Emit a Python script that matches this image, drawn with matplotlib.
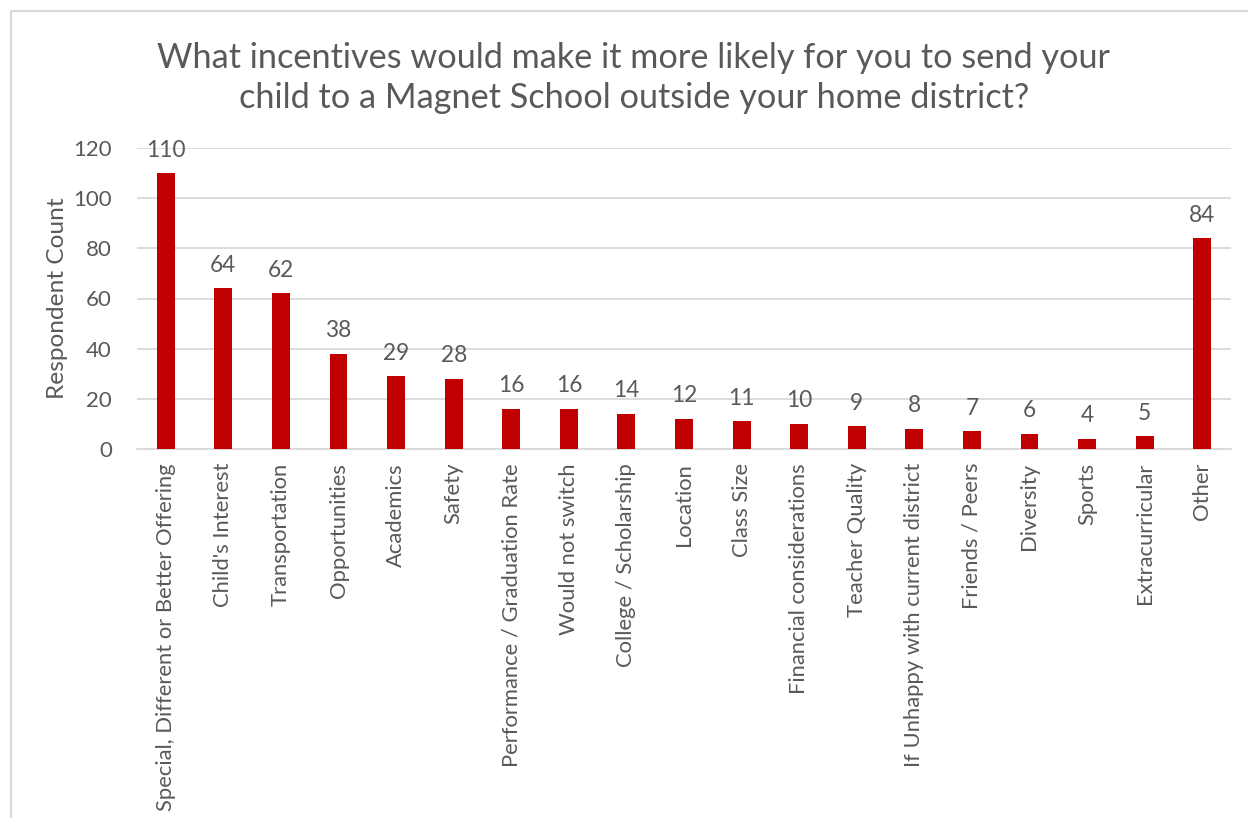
import matplotlib.pyplot as plt
from matplotlib.patches import Rectangle

categories = [
    "Special, Different or Better Offering", "Child's Interest", "Transportation",
    "Opportunities", "Academics", "Safety", "Performance / Graduation Rate",
    "Would not switch", "College / Scholarship", "Location", "Class Size",
    "Financial considerations", "Teacher Quality", "If Unhappy with current district",
    "Friends / Peers", "Diversity", "Sports", "Extracurricular", "Other",
]
counts = [110, 64, 62, 38, 29, 28, 16, 16, 14, 12, 11, 10, 9, 8, 7, 6, 4, 5, 84]
y_ticks = [0, 20, 40, 60, 80, 100, 120]

title = "What incentives would make it more likely for you to send your\nchild to a Magnet School outside your home district?"
text_color = '#595959'
bar_color = '#C00000'

plt.rcParams['font.family'] = ['Lato', 'DejaVu Sans']

fig = plt.figure(figsize=(12.48, 8.18), dpi=100)
W, H = 1248, 818
ax = fig.add_axes([137 / W, (H - 449) / H, (1231 - 137) / W, (449 - 148) / H])

x = range(len(categories))
ax.bar(x, counts, width=0.31, color=bar_color, zorder=3)
for xi, v in zip(x, counts):
    ax.annotate(str(v), (xi, v), xytext=(0, 9), textcoords='offset points',
                ha='center', va='bottom', fontsize=16.3, color=text_color)

ax.set_xlim(-0.5, len(categories) - 0.5)
ax.set_ylim(0, 120)
ax.set_yticks(y_ticks)
ax.set_xticks(list(x))
ax.set_xticklabels(categories, rotation=90, fontsize=15.8, color=text_color)
ax.tick_params(axis='y', labelsize=16, labelcolor=text_color, length=0, pad=18)
ax.tick_params(axis='x', length=0, pad=10)
ax.grid(axis='y', color='#D9D9D9', linewidth=1.3, zorder=0)
for s in ['top', 'right', 'left']:
    ax.spines[s].set_visible(False)
ax.spines['bottom'].set_color('#D9D9D9')
ax.spines['bottom'].set_linewidth(1.3)
ax.set_ylabel("Respondent Count", fontsize=17.6, color=text_color, labelpad=4)

fig.text(0.508, 1 - 78 / H, title, ha='center', va='center', fontsize=24.7,
         color=text_color, linespacing=1.33)

# chart border (left and top visible)
fig.patches.append(Rectangle((11 / W, -0.1), 2, 1.1 - 11 / H, transform=fig.transFigure,
                             fill=False, edgecolor='#D9D9D9', linewidth=1.5))

fig.savefig('out.png', dpi=100)
